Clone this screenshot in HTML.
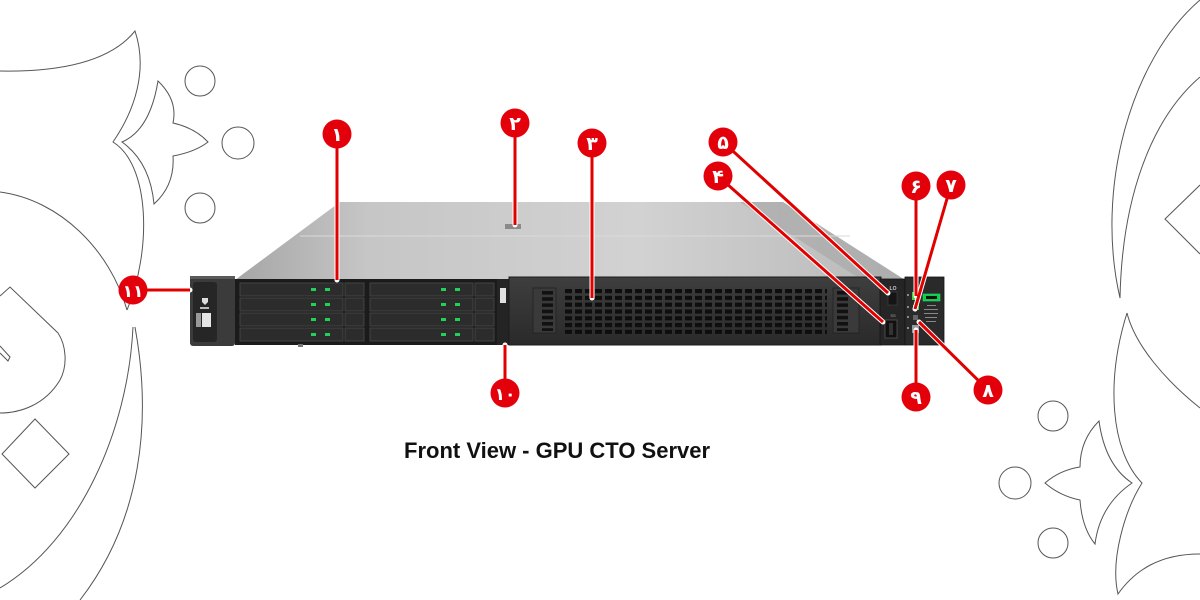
<!DOCTYPE html>
<html>
<head>
<meta charset="utf-8">
<style>
html,body{margin:0;padding:0;background:#fff;}
svg{display:block;}
.num{font-family:"DejaVu Sans","Liberation Sans",sans-serif;font-weight:bold;fill:#fff;}
</style>
</head>
<body>
<svg width="1200" height="600" viewBox="0 0 1200 600" xmlns="http://www.w3.org/2000/svg">
<defs>
  <linearGradient id="lid" x1="0" y1="0" x2="1" y2="0">
    <stop offset="0" stop-color="#a6a6a6"/>
    <stop offset="0.2" stop-color="#c6c6c6"/>
    <stop offset="0.6" stop-color="#d2d2d2"/>
    <stop offset="1" stop-color="#b8b8b8"/>
  </linearGradient>
  <linearGradient id="face" x1="0" y1="0" x2="0" y2="1">
    <stop offset="0" stop-color="#3e3e3e"/>
    <stop offset="1" stop-color="#2a2a2a"/>
  </linearGradient>
  <pattern id="vent" x="565" y="289" width="10" height="6.8" patternUnits="userSpaceOnUse">
    <rect x="0" y="0" width="7" height="4.2" fill="#0e0e0e"/>
  </pattern>
  <pattern id="slot" x="0" y="291" width="20" height="6.2" patternUnits="userSpaceOnUse">
    <rect x="0" y="0" width="20" height="3.6" fill="#111"/>
  </pattern>
</defs>

<!-- left decorations -->
<g fill="none" stroke="#555" stroke-width="1">
  <path d="M0,71 C60,72 110,62 135,31 C148,70 135,110 113,142 C150,165 152,250 127,310"/>
  <path d="M0,192 C60,200 110,250 127,310"/>
  <path d="M122,142 Q150,130 158,81 Q178,100 173,123 Q195,128 208,142 Q195,152 173,156 Q175,185 154,204 Q150,162 122,142 Z"/>
  <circle cx="200" cy="81" r="15"/>
  <circle cx="238" cy="143" r="16"/>
  <circle cx="200" cy="208" r="15"/>
  <path d="M133,327 C128,430 80,540 0,588"/>
  <path d="M135,327 C152,420 142,520 80,600"/>
  <path d="M0,296 L10,287 L58,333 C66,345 68,365 60,380 C45,405 20,413 0,413"/>
  <path d="M0,346 L10,357 L8,361 L0,353"/>
  <path d="M35,419 L69,454 L35,488 L2,454 Z"/>
</g>

<!-- right decorations -->
<g fill="none" stroke="#555" stroke-width="1">
  <path d="M1200,0 C1130,60 1095,190 1120,298 C1122,200 1150,120 1200,77"/>
  <path d="M1200,185 L1165,219 L1200,254"/>
  <path d="M1127,313 C1135,345 1165,380 1200,408"/>
  <path d="M1127,313 C1106,380 1110,450 1142,483 C1125,510 1110,560 1118,594 C1135,570 1160,554 1200,554"/>
  <path d="M1132,483 Q1105,465 1099,421 Q1080,440 1080,467 Q1060,470 1045,483 Q1060,496 1080,500 Q1082,528 1095,544 Q1100,505 1132,483 Z"/>
  <circle cx="1053" cy="416" r="15"/>
  <circle cx="1015" cy="483" r="16"/>
  <circle cx="1053" cy="543" r="15"/>
</g>

<!-- server lid -->
<polygon points="340,202 783,202 905,280 235,280" fill="url(#lid)"/>
<polygon points="740,202 783,202 905,280 862,280" fill="#a9a9a9" opacity="0.7"/>
<line x1="300" y1="236" x2="850" y2="236" stroke="#dadada" stroke-width="1"/>
<rect x="505" y="224" width="16" height="5" fill="#8a8a8a"/>

<!-- left ear -->
<rect x="190" y="276" width="45" height="70" rx="3" fill="#3b3b3b"/>
<rect x="193" y="282" width="24" height="60" rx="3" fill="#262626"/>
<rect x="190" y="276" width="45" height="3" fill="#5a5a5a"/>
<path d="M202,298 h6 v4 l-3,3 l-3,-3 z" fill="#ddd"/>
<rect x="200" y="307" width="9" height="2" fill="#bbb"/>
<rect x="196" y="313" width="5" height="14" fill="#999"/>
<rect x="202" y="313" width="9" height="14" fill="#e6e6e6"/>

<!-- drive cage -->
<rect x="235" y="279" width="262" height="66" fill="#1b1b1b"/>
<g fill="#2c2c2c" stroke="#4a4a4a" stroke-width="0.8">
  <rect x="240" y="283" width="103" height="13"/>
  <rect x="240" y="298" width="103" height="13"/>
  <rect x="240" y="313" width="103" height="13"/>
  <rect x="240" y="328" width="103" height="13"/>
  <rect x="345" y="283" width="19" height="13"/>
  <rect x="345" y="298" width="19" height="13"/>
  <rect x="345" y="313" width="19" height="13"/>
  <rect x="345" y="328" width="19" height="13"/>
  <rect x="370" y="283" width="103" height="13"/>
  <rect x="370" y="298" width="103" height="13"/>
  <rect x="370" y="313" width="103" height="13"/>
  <rect x="370" y="328" width="103" height="13"/>
  <rect x="475" y="283" width="19" height="13"/>
  <rect x="475" y="298" width="19" height="13"/>
  <rect x="475" y="313" width="19" height="13"/>
  <rect x="475" y="328" width="19" height="13"/>
</g>
<g fill="#1fd35a">
  <rect x="311" y="288" width="5" height="3"/><rect x="325" y="288" width="5" height="3"/>
  <rect x="311" y="303" width="5" height="3"/><rect x="325" y="303" width="5" height="3"/>
  <rect x="311" y="318" width="5" height="3"/><rect x="325" y="318" width="5" height="3"/>
  <rect x="311" y="333" width="5" height="3"/><rect x="325" y="333" width="5" height="3"/>
  <rect x="441" y="288" width="5" height="3"/><rect x="455" y="288" width="5" height="3"/>
  <rect x="441" y="303" width="5" height="3"/><rect x="455" y="303" width="5" height="3"/>
  <rect x="441" y="318" width="5" height="3"/><rect x="455" y="318" width="5" height="3"/>
  <rect x="441" y="333" width="5" height="3"/><rect x="455" y="333" width="5" height="3"/>
</g>
<rect x="298" y="344" width="5" height="3" fill="#777"/>

<!-- handle strip -->
<rect x="497" y="279" width="12" height="66" fill="#242424"/>
<rect x="500" y="288" width="6" height="15" fill="#e0e0e0"/>

<!-- GPU bay -->
<rect x="509" y="277" width="372" height="68" fill="url(#face)" stroke="#1c1c1c" stroke-width="1"/>
<rect x="533" y="288" width="23" height="45" fill="#3a3a3a" stroke="#222" stroke-width="0.8"/>
<rect x="542" y="291" width="11" height="40" fill="url(#slot)"/>
<rect x="833" y="288" width="26" height="45" fill="#3a3a3a" stroke="#222" stroke-width="0.8"/>
<rect x="837" y="291" width="11" height="40" fill="url(#slot)"/>
<rect x="565" y="289" width="262" height="45" fill="url(#vent)"/>

<!-- port panel -->
<rect x="880" y="279" width="25" height="66" fill="#252525" stroke="#151515" stroke-width="0.8"/>
<text x="893" y="290" font-family="Liberation Sans, sans-serif" font-size="5" fill="#ccc" text-anchor="middle" font-weight="bold">LO</text>
<rect x="888" y="292" width="9" height="13" fill="#151515" stroke="#444" stroke-width="0.6"/>
<text x="893" y="317" font-family="Liberation Sans, sans-serif" font-size="4" fill="#aaa" text-anchor="middle">SS</text>
<rect x="885" y="320" width="12" height="18" fill="#111" stroke="#555" stroke-width="0.8"/>
<rect x="889" y="323" width="4" height="12" fill="#333"/>

<!-- power panel -->
<rect x="905" y="277" width="39" height="68" fill="#2a2a2a" stroke="#151515" stroke-width="0.8"/>
<rect x="912" y="292" width="7" height="8" fill="#3fd84a"/>
<rect x="913" y="305" width="6" height="5" fill="#3fd84a"/>
<rect x="913" y="315" width="5" height="5" fill="#666"/>
<rect x="912" y="325" width="7" height="8" fill="#999"/>
<g fill="#888">
  <rect x="907" y="294" width="2" height="2"/><rect x="907" y="306" width="2" height="2"/>
  <rect x="907" y="316" width="2" height="2"/><rect x="907" y="327" width="2" height="2"/>
</g>
<rect x="923" y="294" width="17" height="7" fill="#1c4" stroke="#2d7" stroke-width="0.6"/>
<rect x="926" y="296" width="11" height="3" fill="#111"/>
<g fill="#888">
  <rect x="927" y="305" width="9" height="1"/>
  <rect x="924" y="309" width="14" height="1"/>
  <rect x="924" y="313" width="14" height="1"/>
  <rect x="925" y="317" width="12" height="1"/>
  <rect x="926" y="321" width="10" height="1"/>
</g>

<!-- connectors (white halo + red) -->
<g stroke="#fff" stroke-width="5" stroke-linecap="round" fill="none">
  <line x1="337" y1="134" x2="337" y2="280"/>
  <line x1="515" y1="123" x2="515" y2="225"/>
  <line x1="592" y1="143" x2="592" y2="298"/>
  <line x1="718" y1="176" x2="883" y2="322"/>
  <line x1="723" y1="142" x2="888" y2="293"/>
  <line x1="916" y1="186" x2="916" y2="296"/>
  <line x1="951" y1="185" x2="915" y2="309"/>
  <line x1="988" y1="390" x2="919" y2="322"/>
  <line x1="916" y1="397" x2="916" y2="330"/>
  <line x1="505" y1="393" x2="505" y2="345"/>
  <line x1="133" y1="290" x2="190" y2="290"/>
</g>
<g stroke="#e00000" stroke-width="3" stroke-linecap="butt" fill="none">
  <line x1="337" y1="134" x2="337" y2="280"/>
  <line x1="515" y1="123" x2="515" y2="225"/>
  <line x1="592" y1="143" x2="592" y2="298"/>
  <line x1="718" y1="176" x2="883" y2="322"/>
  <line x1="723" y1="142" x2="888" y2="293"/>
  <line x1="916" y1="186" x2="916" y2="296"/>
  <line x1="951" y1="185" x2="915" y2="309"/>
  <line x1="988" y1="390" x2="919" y2="322"/>
  <line x1="916" y1="397" x2="916" y2="330"/>
  <line x1="505" y1="393" x2="505" y2="345"/>
  <line x1="133" y1="290" x2="190" y2="290"/>
</g>

<!-- numbered circles -->
<g fill="#e3000b">
  <circle cx="337" cy="134" r="14.5"/>
  <circle cx="515" cy="123" r="14.5"/>
  <circle cx="592" cy="143" r="14.5"/>
  <circle cx="718" cy="176" r="14.5"/>
  <circle cx="723" cy="142" r="14.5"/>
  <circle cx="916" cy="186" r="14.5"/>
  <circle cx="951" cy="185" r="14.5"/>
  <circle cx="988" cy="390" r="14.5"/>
  <circle cx="916" cy="397" r="14.5"/>
  <circle cx="505" cy="393" r="14.5"/>
  <circle cx="133" cy="290" r="14.5"/>
</g>
<g class="num" font-size="19" text-anchor="middle">
  <text x="337" y="141">۱</text>
  <text x="515" y="130">۲</text>
  <text x="592" y="150">۳</text>
  <text x="718" y="183">۴</text>
  <text x="723" y="149">۵</text>
  <text x="916" y="193">۶</text>
  <text x="951" y="192">۷</text>
  <text x="988" y="397">۸</text>
  <text x="916" y="404">۹</text>
  <text x="505" y="400" font-size="17">۱۰</text>
  <text x="133" y="297" font-size="17">۱۱</text>
</g>

<!-- caption -->
<text x="404" y="458" font-family="Liberation Sans, Arial, sans-serif" font-size="22" font-weight="bold" fill="#111">Front View - GPU CTO Server</text>
</svg>
</body>
</html>
